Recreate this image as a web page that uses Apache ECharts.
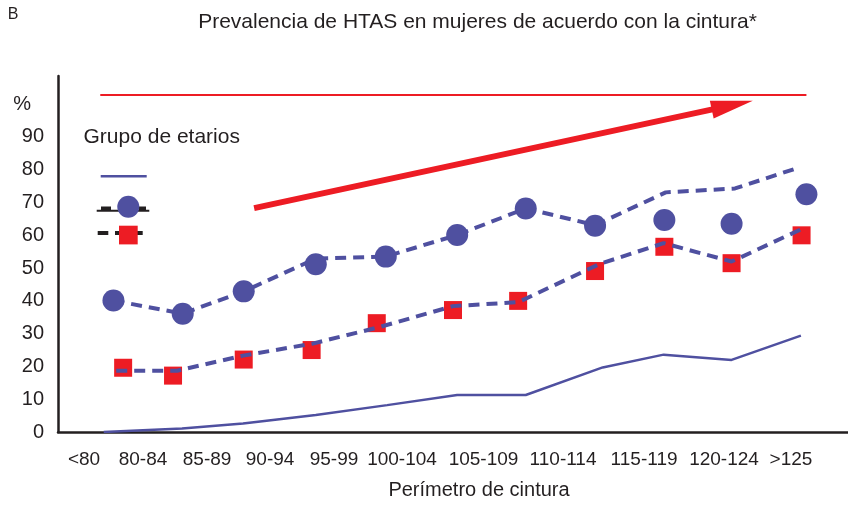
<!DOCTYPE html>
<html>
<head>
<meta charset="utf-8">
<script src="https://cdn.jsdelivr.net/npm/echarts@6/dist/echarts.min.js"></script>
<style>html,body{margin:0;padding:0;background:#fff}#c{width:848px;height:508px}</style>
</head>
<body>
<div id="c"></div>
<script>
// ---- data (x in category-index units, y in %) ----
const categories = ['<80','80-84','85-89','90-94','95-99','100-104','105-109','110-114','115-119','120-124','>125'];
const yTicks = [0,10,20,30,40,50,60,70,80,90];

const circleX = [0, 1, 1.88, 2.92, 3.93, 4.96, 5.95, 6.95, 7.95, 8.92, 10.0];
const circleY = [40.1, 36.1, 42.9, 51.2, 53.5, 60.1, 68.2, 62.9, 64.7, 63.5, 72.5];

const squareX = [0.14, 0.86, 1.88, 2.86, 3.80, 4.90, 5.84, 6.95, 7.95, 8.92, 9.93];
const squareY = [19.6, 17.2, 22.1, 25.0, 33.2, 37.2, 40.0, 49.1, 56.5, 51.5, 60.0];

const upperLineX = [0, 1, 1.88, 2.92, 3.93, 4.96, 5.95, 6.95, 7.97, 8.97, 9.91];
const upperLineY = [40.1, 36.1, 42.9, 52.9, 53.5, 60.1, 68.2, 63.1, 73.1, 74.3, 80.8];

const lowerLineX = [0.04, 0.92, 1.87, 2.86, 3.82, 4.90, 5.84, 7.02, 7.94, 8.92, 9.95];
const lowerLineY = [18.7, 18.7, 23.3, 26.9, 31.9, 38.4, 39.6, 51.3, 57.6, 52.0, 62.1];

const solidLineX = [-0.14, 0.99, 1.87, 2.92, 3.95, 4.96, 5.95, 7.06, 7.94, 8.92, 9.92];
const solidLineY = [0, 1.1, 2.6, 5.2, 8.2, 11.3, 11.3, 19.7, 23.6, 22.0, 29.4];

const refLineX = [-0.19, 10.0];
const refLineY = [102.8, 102.8];
const arrowX = [2.03, 8.93];
const arrowY = [68.3, 99.7];

// label anchor positions along the x axis (layout)
const xLabelAt = [-0.424, 0.427, 1.351, 2.26, 3.183, 4.164, 5.34, 6.488, 7.657, 8.811, 9.777];

const BLUE = '#4F50A0', RED = '#ED1C24', INK = '#231F20';
const FONT = '"Liberation Sans", Arial, sans-serif';

function zip(xs, ys){ return xs.map((x,i)=>[x, ys[i]]); }

const chart = echarts.init(document.getElementById('c'), null, {renderer:'canvas'});
chart.setOption({
  animation:false,
  backgroundColor:'#fff',
  textStyle:{fontFamily:FONT},
  grid:{left:58, right:0, top:76, bottom:76, containLabel:false},
  xAxis:{
    type:'value', min:-0.8, max:10.6,
    axisLine:{show:true, onZero:false, lineStyle:{color:INK, width:2.5}},
    axisTick:{show:false}, splitLine:{show:false},
    axisLabel:{
      customValues:xLabelAt,
      formatter:function(v){
        let best=0, d=1e9;
        xLabelAt.forEach((p,i)=>{ if(Math.abs(p-v)<d){d=Math.abs(p-v);best=i;} });
        return categories[best];
      },
      fontSize:19, color:INK, fontFamily:FONT, margin:18
    }
  },
  yAxis:{
    type:'value', min:0, max:108.6, interval:10,
    axisLine:{show:true, onZero:false, lineStyle:{color:INK, width:2.5}},
    axisTick:{show:false}, splitLine:{show:false},
    axisLabel:{
      fontSize:20, color:INK, fontFamily:FONT, margin:14,
      formatter:function(v){
        if (v === 100) return '{p|%}';
        return yTicks.indexOf(v) >= 0 ? String(v) : '';
      },
      rich:{p:{fontSize:20, color:INK, fontFamily:FONT, padding:[0,13,0,0]}}
    }
  },
  series:[
    { name:'annot', type:'line', data:[], silent:true, z:1,
      markLine:{
        silent:true, animation:false, label:{show:false},
        data:[
          [{coord:[refLineX[0], refLineY[0]], symbol:'none', lineStyle:{color:RED, width:2, type:'solid'}},
           {coord:[refLineX[1], refLineY[1]], symbol:'none'}],
          [{coord:[arrowX[0], arrowY[0]], symbol:'none', lineStyle:{color:RED, width:6, type:'solid'}},
           {coord:[arrowX[1], arrowY[1]], symbol:'triangle', symbolSize:[18,42]}]
        ]
      }
    },
    { name:'solid', type:'line', data:zip(solidLineX, solidLineY), showSymbol:false, symbol:'none',
      lineStyle:{color:BLUE, width:2.5}, z:2 },
    { name:'squares', type:'scatter', data:zip(squareX, squareY), symbol:'rect', symbolSize:18,
      itemStyle:{color:RED, opacity:1}, z:3 },
    { name:'lowerDash', type:'line', data:zip(lowerLineX, lowerLineY), symbol:'none',
      lineStyle:{color:BLUE, width:4, type:[11,7]}, z:4 },
    { name:'upperDash', type:'line', data:zip(upperLineX, upperLineY), symbol:'none',
      lineStyle:{color:BLUE, width:4, type:[11,7]}, z:4 },
    { name:'circles', type:'scatter', data:zip(circleX, circleY), symbol:'circle', symbolSize:22,
      itemStyle:{color:BLUE, opacity:1}, z:5 }
  ],
  graphic:[
    {type:'text', x:13, y:15, style:{text:'B', fill:INK, font:'16px '+FONT, align:'center', verticalAlign:'middle'}},
    {type:'text', x:477.5, y:22, style:{text:'Prevalencia de HTAS en mujeres de acuerdo con la cintura*', fill:INK, font:'21px '+FONT, align:'center', verticalAlign:'middle'}},
    {type:'text', x:479, y:490, style:{text:'Perímetro de cintura', fill:INK, font:'20px '+FONT, align:'center', verticalAlign:'middle'}},
    {type:'text', x:83.5, y:137, style:{text:'Grupo de etarios', fill:INK, font:'21px '+FONT, align:'left', verticalAlign:'middle'}},
    {type:'line', shape:{x1:100.7,y1:176.3,x2:146.7,y2:176.3}, style:{stroke:BLUE, lineWidth:2.5}},
    {type:'line', shape:{x1:96.7,y1:210.7,x2:149.3,y2:210.7}, style:{stroke:INK, lineWidth:2}},
    {type:'rect', shape:{x:101,y:206.5,width:10,height:4}, style:{fill:INK}},
    {type:'rect', shape:{x:139,y:206.5,width:7,height:4}, style:{fill:INK}},
    {type:'circle', shape:{cx:128.3,cy:206.7,r:11}, style:{fill:BLUE}},
    {type:'line', shape:{x1:97.7,y1:233,x2:142.7,y2:233}, style:{stroke:INK, lineWidth:4, lineDash:[10.6,6.7]}},
    {type:'rect', shape:{x:119,y:225.7,width:18.7,height:18.7}, style:{fill:RED}}
  ]
});
</script>
</body>
</html>
